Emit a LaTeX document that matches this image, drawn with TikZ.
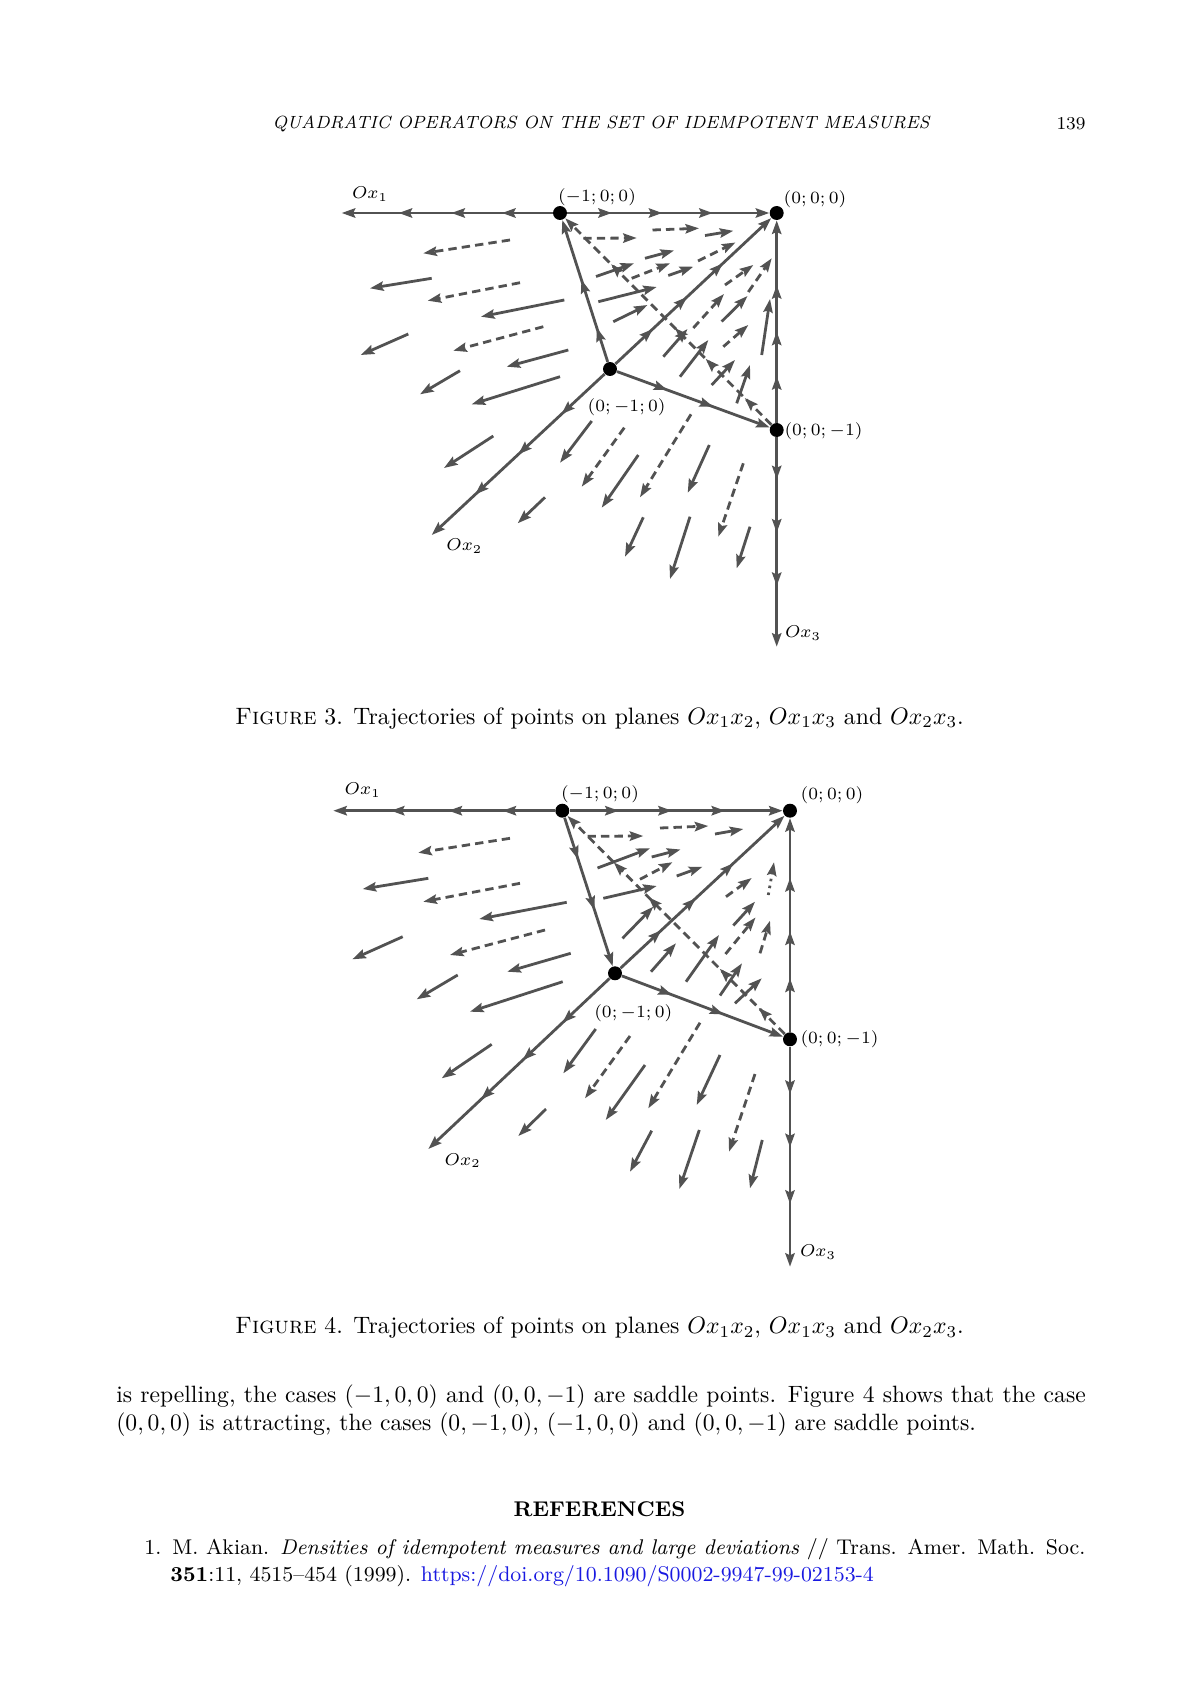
\RequirePackage{fix-cm}
\documentclass[tikz,border=0pt]{standalone}
\usepackage{tikz}
\usepackage{xcolor}
\usetikzlibrary{arrows.meta, decorations.markings, positioning}
\definecolor{fieldgray}{RGB}{82,82,82}
\definecolor{linkblue}{RGB}{25,25,225}

\tikzset{
  vec/.style={color=fieldgray, line width=1.2pt, ->},
  dvec/.style={vec, dash pattern=on 3.6pt off 2.2pt},
  ovec/.style={vec, dash pattern=on 1.1pt off 1.9pt},
  tipat/.style={postaction={decorate, decoration={markings, mark=at position #1 with {\arrow{>}}}}},
  fixpt/.style={circle, fill=black, inner sep=0pt, minimum size=6pt},
  lbl/.style={font=\fontsize{7.4}{9}\selectfont, inner sep=1pt},
  textline/.style={anchor=west, inner sep=0pt}
}

\begin{document}
\begin{tikzpicture}[
  x=0.43pt, y=-0.43pt,
  >={Stealth[length=5.8pt,width=4pt,inset=0.9pt]}
]
\useasboundingbox (0,0) rectangle (1200,1697);
\fill[white] (0,0) rectangle (1200,1697);

% running head
\node[font=\fontsize{7.6}{9}\selectfont\itshape] (runhead) at (601,124) {QUADRATIC OPERATORS ON THE SET OF IDEMPOTENT MEASURES};
\node[font=\fontsize{7.8}{9}\selectfont] (pageno) at (1071,124) {139};

% ---------- Figure 3 ----------
\node[fixpt] (Oa) at (776.7,213) {};
\node[fixpt] (Pa) at (560,213) {};
\node[fixpt] (Qa) at (610,369) {};
\node[fixpt] (Ra) at (776.7,430) {};
\coordinate (x1a) at (341.7,213);
\coordinate (x2a) at (431.7,535);
\coordinate (x3a) at (776.7,646.7);

% axes and separatrices
\draw[vec, tipat=0.24, tipat=0.48, tipat=0.73] (Pa) -- (x1a);
\draw[vec, tipat=0.22, tipat=0.47, tipat=0.72] (Pa) -- (Oa);
\draw[vec, tipat=0.24, tipat=0.58] (Qa) -- (Pa);
\draw[vec, tipat=0.24, tipat=0.46, tipat=0.69] (Qa) -- (Oa);
\draw[vec, tipat=0.33, tipat=0.63] (Qa) -- (Ra);
\draw[vec, tipat=0.23, tipat=0.45, tipat=0.68] (Ra) -- (Oa);
\draw[vec, tipat=0.2, tipat=0.455, tipat=0.71] (Ra) -- (x3a);
\draw[vec, tipat=0.25, tipat=0.5, tipat=0.75] (Qa) -- (x2a);
\draw[dvec, tipat=0.13, tipat=0.32, tipat=0.47, tipat=0.78] (Ra) -- (Pa);

% field: (tail x, tail y, head x, head y)
\foreach \xa/\ya/\xb/\yb in {
  431.7/278.3/370/288.3, 564.3/300/481/316.7, 408.3/334/360.7/355,
  568.3/350/506.7/366.7, 460/370.7/420/394.3, 560/376.7/471.7/404.3,
  493.3/436/444/468, 545/497.3/517.7/523.3, 591.7/421/560/462.7,
  638.3/455/601.7/507.7, 643.3/517.3/625/556.7, 709.3/445/687.7/492.7,
  690/516.7/670/579, 750/526.7/736.7/568.3, 705/235.5/733.3/230.8,
  596/276.5/634/263.3, 645/258.3/674/250.5, 668.3/275.5/693.3/266.7,
  598.3/301.7/656.7/287, 613.3/321.7/647.5/305, 663.3/356.7/687.5/329,
  680/376.7/708.3/340, 721.7/321.5/747.5/296, 761.7/355/770/299,
  711.7/385/735/360, 736.7/403.3/750/365}
  \draw[vec] (\xa,\ya) -- (\xb,\yb);
\foreach \xa/\ya/\xb/\yb in {
  510/240/423.3/253.3, 520/282.7/427.7/300.7, 543.3/326.7/453.3/350.7,
  624.3/427.7/581.7/486.7, 691/414.3/640/497.3, 743.3/463.3/718.3/536.7,
  583.3/238.3/636.7/238, 652.5/230/699/228.3, 631.7/278.3/670/263.3,
  698/261/735.5/242.5, 725/285/753.3/265, 748.3/292/771.7/258.3,
  693.3/328/724/294, 723.3/346.7/748.3/325}
  \draw[dvec] (\xa,\ya) -- (\xb,\yb);

% labels
\node[lbl] (la1) at (370,194) {$Ox_1$};
\node[lbl] (la2) at (464.3,546) {$Ox_2$};
\node[lbl] (la3) at (803,633) {$Ox_3$};
\node[lbl] (lpa) at (597,197) {$(-1;0;0)$};
\node[lbl] (loa) at (815,199) {$(0;0;0)$};
\node[lbl] (lqa) at (626.7,406.7) {$(0;-1;0)$};
\node[lbl] (lra) at (823.5,430.7) {$(0;0;-1)$};

\node[font=\fontsize{10.2}{12.2}\selectfont] (capa) at (599.5,718.5) {\textsc{Figure}~3. Trajectories of points on planes $Ox_1x_2$, $Ox_1x_3$ and $Ox_2x_3$.};

% ---------- Figure 4 ----------
\node[fixpt] (Ob) at (790,810.7) {};
\node[fixpt] (Pb) at (562.3,810.7) {};
\node[fixpt] (Qb) at (615,973.3) {};
\node[fixpt] (Rb) at (790,1039.3) {};
\coordinate (x1b) at (333.3,810.7);
\coordinate (x2b) at (428.3,1149);
\coordinate (x3b) at (790,1266.7);

% axes and separatrices
\draw[vec, tipat=0.236, tipat=0.48, tipat=0.74] (Pb) -- (x1b);
\draw[vec, tipat=0.23, tipat=0.48, tipat=0.73] (Pb) -- (Ob);
\draw[vec, tipat=0.28, tipat=0.62] (Pb) -- (Qb);
\draw[vec, tipat=0.25, tipat=0.46, tipat=0.69] (Qb) -- (Ob);
\draw[vec, tipat=0.31, tipat=0.63] (Qb) -- (Rb);
\draw[vec, tipat=0.25, tipat=0.47, tipat=0.72] (Rb) -- (Ob);
\draw[vec, tipat=0.215, tipat=0.457, tipat=0.714] (Rb) -- (x3b);
\draw[vec, tipat=0.26, tipat=0.48, tipat=0.71] (Qb) -- (x2b);
\draw[dvec, tipat=0.12, tipat=0.30, tipat=0.63, tipat=0.79] (Rb) -- (Pb);

% field: (tail x, tail y, head x, head y)
\foreach \xa/\ya/\xb/\yb in {
  428.3/878.3/362.7/889, 566.7/902.3/479.3/919, 402.7/936.7/352.3/959.3,
  570.7/953.3/507.3/971.7, 457.7/975/416.7/999.3, 562.7/981.7/470/1011.7,
  491.7/1044.3/441.7/1078.3, 546/1109/518.3/1136, 595.7/1029/563.3/1073.3,
  645/1065/605.7/1120, 651.7/1130.7/630/1171.7, 720/1055/696.7/1105,
  699.3/1130/679.3/1189, 762.3/1140/750/1188.3, 715/834/743.3/829,
  597.5/868/650/848.3, 651.7/857/680.5/849.5, 676.7/876/702.5/866.7,
  603.3/898.3/656.7/886, 622.5/938.3/653.3/906.7, 651/971.7/676/943.3,
  733.3/925.5/755/901.7, 686/981.7/719/935, 720/995.5/742/963.3,
  735/1003.3/761.7/978.3}
  \draw[vec] (\xa,\ya) -- (\xb,\yb);
\foreach \xa/\ya/\xb/\yb in {
  510/838.3/418.3/852.7, 520/883.3/423.3/901.7, 545/930/450/955,
  630/1036/585/1098.3, 700/1022.7/648.3/1108.3, 755/1074/729/1151.7,
  587.5/836.3/643.3/836, 660/828/708.3/826, 640/879.3/672.5/862.2,
  726/896.7/751.7/878, 725.5/954/755.5/917.5, 760/953.3/770/920.7}
  \draw[dvec] (\xa,\ya) -- (\xb,\yb);
\draw[ovec] (768.3,895) -- (774,862.2);

% labels
\node[lbl] (lb1) at (362.7,790) {$Ox_1$};
\node[lbl] (lb2) at (462.7,1160.7) {$Ox_2$};
\node[lbl] (lb3) at (818,1252) {$Ox_3$};
\node[lbl] (lpb) at (600,794) {$(-1;0;0)$};
\node[lbl] (lob) at (832,795) {$(0;0;0)$};
\node[lbl] (lqb) at (633.3,1013) {$(0;-1;0)$};
\node[lbl] (lrb) at (839.5,1039.5) {$(0;0;-1)$};

\node[font=\fontsize{10.2}{12.2}\selectfont] (capb) at (599.5,1327.7) {\textsc{Figure}~4. Trajectories of points on planes $Ox_1x_2$, $Ox_1x_3$ and $Ox_2x_3$.};

% text
\node[textline, font=\fontsize{10.15}{12.2}\selectfont] (body1) at (115.8,1397) {\makebox[416.9pt][s]{is repelling, the cases $(-1,0,0)$ and $(0,0,-1)$ are saddle points. Figure~4 shows that the case}};
\node[textline, font=\fontsize{10.15}{12.2}\selectfont] (body2) at (115.8,1425) {$(0,0,0)$ is attracting, the cases $(0,-1,0)$, $(-1,0,0)$ and $(0,0,-1)$ are saddle points.};

\node[font=\fontsize{9.15}{11}\selectfont\bfseries] (refhead) at (599.5,1509.5) {REFERENCES};
\node[textline, font=\fontsize{9.15}{11}\selectfont] (ref1a) at (144,1549.5) {\makebox[404.6pt][s]{1. M. Akian. \textit{Densities of idempotent measures and large deviations} // Trans. Amer. Math. Soc.}};
\node[textline, font=\fontsize{9.15}{11}\selectfont] (ref1b) at (170,1576.5) {\textbf{351}:11, 4515--454 (1999). \textcolor{linkblue}{https://doi.org/10.1090/S0002-9947-99-02153-4}};
\end{tikzpicture}
\end{document}
